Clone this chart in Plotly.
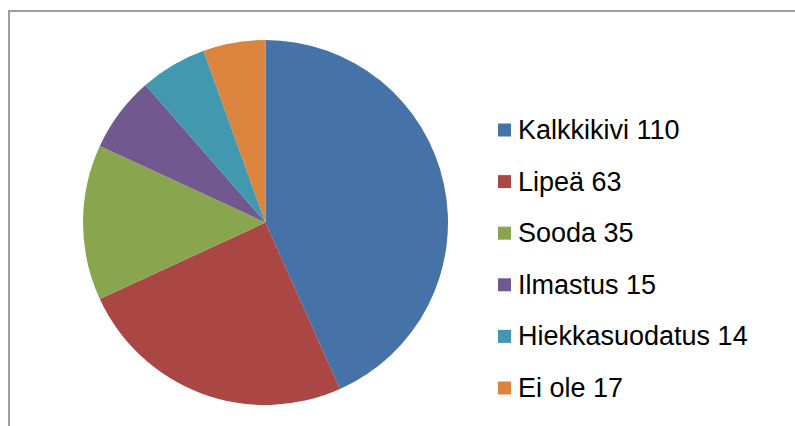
import plotly.graph_objects as go

# Legend texts exactly as printed in the chart
legend_labels = ["Kalkkikivi 110", "Lipeä 63", "Sooda 35", "Ilmastus 15", "Hiekkasuodatus 14", "Ei ole 17"]
values = [110, 63, 35, 17, 15, 14]
colors = ["#4572A7", "#AA4643", "#89A54E", "#71588F", "#4198AF", "#DB843D"]

W, H = 795, 426

fig = go.Figure(go.Pie(
    labels=legend_labels,
    values=values,
    sort=False,
    direction="clockwise",
    rotation=0,
    marker=dict(colors=colors, line=dict(width=0)),
    textinfo="none",
    hoverinfo="label",
    showlegend=False,
    domain=dict(x=[83 / W, 448 / W], y=[(H - 405) / H, (H - 40) / H]),
))

shapes = [dict(type="rect", xref="paper", yref="paper",
               x0=9 / W, x1=1.05, y0=-0.05, y1=1 - 11 / H,
               line=dict(color="#a39ca3", width=2), fillcolor="rgba(0,0,0,0)")]
annotations = []
y0 = 130
step = 51.6
for i, (lab, col) in enumerate(zip(legend_labels, colors)):
    yc = y0 + i * step
    shapes.append(dict(type="rect", xref="paper", yref="paper",
                       x0=498 / W, x1=511 / W,
                       y0=1 - (yc + 6.5) / H, y1=1 - (yc - 6.5) / H,
                       fillcolor=col, line=dict(width=0)))
    annotations.append(dict(xref="paper", yref="paper", x=516 / W, y=1 - yc / H,
                            xanchor="left", yanchor="middle", showarrow=False,
                            text=lab,
                            font=dict(family="Liberation Sans, Arial", size=27, color="#000000")))

fig.update_layout(
    width=W, height=H,
    margin=dict(l=0, r=0, t=0, b=0),
    paper_bgcolor="white",
    plot_bgcolor="white",
    shapes=shapes,
    annotations=annotations,
)

fig.write_html("out.html", config={"displayModeBar": False},
               post_script="document.body.style.margin='0';document.body.style.overflow='hidden';")
